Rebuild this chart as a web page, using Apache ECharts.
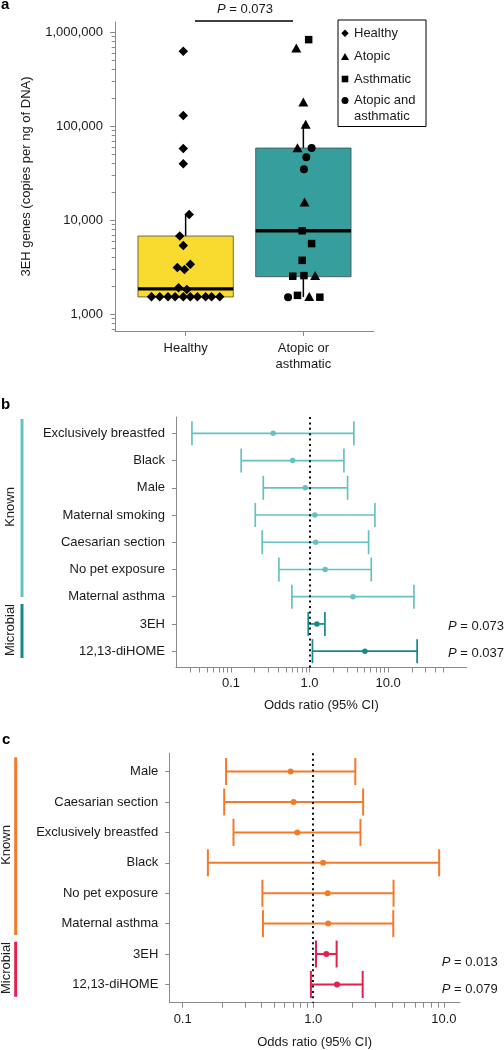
<!DOCTYPE html>
<html><head><meta charset="utf-8">
<script src="https://cdn.jsdelivr.net/npm/echarts@6/dist/echarts.min.js"></script>
<style>html,body{margin:0;padding:0;background:#fff}#c{width:504px;height:1050px}</style>
</head><body><div id="c"></div>
<script>
// ---------- Panel a data ----------
const aCategories = ['Healthy', 'Atopic or\nasthmatic'];
const aCategoryPos = [1, 2];
const aTickValues = [1000, 10000, 100000, 1000000];
const aMinorTicks = [700, 800, 900, 2000, 3000, 4000, 5000, 6000, 7000, 8000, 9000,
  20000, 30000, 40000, 50000, 60000, 70000, 80000, 90000,
  200000, 300000, 400000, 500000, 600000, 700000, 800000, 900000];
const boxQ1 = [1530, 2510];
const boxMedian = [1860, 7740];
const boxQ3 = [6800, 58700];
const whiskerLow = [1530, 1530];
const whiskerHigh = [11500, 105000];

const healthyX = [0.98, 0.98, 0.98, 0.98, 1.03, 0.95, 0.98, 1.04, 0.93, 0.99, 0.94, 1.01,
  0.71, 0.78, 0.85, 0.91, 0.98, 1.04, 1.10, 1.17, 1.22, 1.29];
const healthyY = [628000, 130000, 58000, 40000, 11500, 6800, 5400, 3400, 3140, 3000, 1920, 1830,
  1540, 1540, 1540, 1540, 1540, 1540, 1540, 1540, 1540, 1540];
const atopicX = [1.94, 2.0, 2.02, 1.95, 2.01, 2.10, 2.05];
const atopicY = [681000, 181000, 105000, 59000, 15700, 2580, 1550];
const asthmaticX = [2.045, 1.99, 2.07, 1.99, 1.91, 2.005, 1.95, 2.14];
const asthmaticY = [836000, 7740, 5650, 3750, 2540, 2580, 1590, 1520];
const bothX = [2.07, 2.025, 2.005, 1.87];
const bothY = [58700, 47000, 34900, 1520];

// ---------- Panel b data ----------
const bLabels = ['Exclusively breastfed', 'Black', 'Male', 'Maternal smoking', 'Caesarian section',
  'No pet exposure', 'Maternal asthma', '3EH', '12,13-diHOME'];
const bOR = [0.345, 0.610, 0.882, 1.17, 1.20, 1.58, 3.57, 1.24, 5.07];
const bLow = [0.0319, 0.135, 0.258, 0.204, 0.250, 0.408, 0.597, 0.963, 1.09];
const bHigh = [3.67, 2.74, 3.05, 6.79, 5.65, 6.10, 21.3, 1.57, 23.4];
const bGroup = ['Known', 'Known', 'Known', 'Known', 'Known', 'Known', 'Known', 'Microbial', 'Microbial'];
const bPValues = ['0.073', '0.037'];
const bTicks = [0.03, 0.04, 0.05, 0.06, 0.07, 0.08, 0.09, 0.1, 0.2, 0.3, 0.4, 0.5, 0.6, 0.7, 0.8, 0.9,
  1, 2, 3, 4, 5, 6, 7, 8, 9, 10, 20, 30, 40, 50];
const bTickLabels = [0.1, 1, 10];

// ---------- Panel c data ----------
const cLabels = ['Male', 'Caesarian section', 'Exclusively breastfed', 'Black', 'No pet exposure',
  'Maternal asthma', '3EH', '12,13-diHOME'];
const cOR = [0.671, 0.707, 0.755, 1.19, 1.29, 1.30, 1.26, 1.52];
const cLow = [0.215, 0.208, 0.245, 0.156, 0.408, 0.412, 1.05, 0.96];
const cHigh = [2.10, 2.41, 2.30, 9.21, 4.12, 4.10, 1.51, 2.39];
const cGroup = ['Known', 'Known', 'Known', 'Known', 'Known', 'Known', 'Microbial', 'Microbial'];
const cPValues = ['0.013', '0.079'];
const cTicks = [0.1, 0.2, 0.3, 0.4, 0.5, 0.6, 0.7, 0.8, 0.9, 1, 2, 3, 4, 5, 6, 7, 8, 9, 10];
const cTickLabels = [0.1, 1, 10];

// ---------- styles ----------
const FONT = 'Liberation Sans';
const AX = '#8a8a8a';
const TXT = '#1a1a1a';
const BOX_COLORS = ['#f9da2f', '#369e9d'];
const BOX_HALF = 0.405;
const B_COLORS = {Known: '#66c2c2', Microbial: '#148a8a'};
const C_COLORS = {Known: '#f47a2a', Microbial: '#e3204c'};

const chart = echarts.init(document.getElementById('c'), null, {renderer: 'canvas'});

function rowsOf(n) { const r = []; for (let i = 1; i <= n; i++) r.push(i); return r; }

function errBarSeries(xi, yi, labels, low, high, group, colors, cap, lw) {
  return {
    type: 'custom', xAxisIndex: xi, yAxisIndex: yi, silent: true,
    encode: {x: [1, 2], y: 0},
    data: labels.map((l, i) => [i + 1, low[i], high[i]]),
    renderItem: (params, api) => {
      const y = api.value(0);
      const a = api.coord([api.value(1), y]);
      const b = api.coord([api.value(2), y]);
      const col = colors[group[params.dataIndex]];
      const st = {stroke: col, lineWidth: lw};
      return {type: 'group', children: [
        {type: 'line', shape: {x1: a[0], y1: a[1], x2: b[0], y2: b[1]}, style: st},
        {type: 'line', shape: {x1: a[0], y1: a[1] - cap, x2: a[0], y2: a[1] + cap}, style: st},
        {type: 'line', shape: {x1: b[0], y1: b[1] - cap, x2: b[0], y2: b[1] + cap}, style: st}
      ]};
    }
  };
}

function pointSeries(xi, yi, or, group, colors, size) {
  return {
    type: 'scatter', xAxisIndex: xi, yAxisIndex: yi, symbol: 'circle', symbolSize: size, silent: true,
    data: or.map((v, i) => ({value: [v, i + 1], itemStyle: {color: colors[group[i]], opacity: 1}})),
    markLine: {
      silent: true, symbol: 'none', label: {show: false},
      lineStyle: {type: [2, 3.4], color: '#111', width: 2},
      data: [{xAxis: 1}]
    }
  };
}

const axisTextStyle = {fontFamily: FONT, fontSize: 13, color: TXT};

function logXAxis(gi, min, max, ticks, labels, margin, nameGap) {
  return {
    gridIndex: gi, type: 'log', logBase: 10, min: min, max: max,
    axisLine: {lineStyle: {color: AX, width: 1}},
    axisTick: {customValues: ticks, length: 5, lineStyle: {color: AX}},
    axisLabel: Object.assign({customValues: labels, margin: margin, formatter: v => Number(v).toFixed(1)}, axisTextStyle),
    splitLine: {show: false}, minorTick: {show: false},
    name: 'Odds ratio (95% CI)', nameLocation: 'middle', nameGap: nameGap,
    nameTextStyle: axisTextStyle
  };
}
function catYAxis(gi, labels) {
  return {
    gridIndex: gi, type: 'value', inverse: true, min: 0.4, max: labels.length + 0.6,
    axisLine: {show: true, lineStyle: {color: AX, width: 1}},
    axisTick: {show: true, customValues: rowsOf(labels.length), length: 4, lineStyle: {color: AX}},
    axisLabel: Object.assign({customValues: rowsOf(labels.length), margin: 11,
      formatter: v => labels[Math.round(v) - 1]}, axisTextStyle),
    splitLine: {show: false}
  };
}

function pText(x, y, val) {
  return {type: 'text', x: x, y: y, silent: true,
    style: {text: '{i|P} = ' + val, fontFamily: FONT, fontSize: 13, fill: TXT,
      align: 'left', verticalAlign: 'middle',
      rich: {i: {fontStyle: 'italic', fontFamily: FONT, fontSize: 13, fill: TXT}}}};
}
function vText(x, y, t) {
  return {type: 'text', x: x, y: y, rotation: Math.PI / 2, silent: true,
    style: {text: t, fontFamily: FONT, fontSize: 13, fill: TXT, align: 'center', verticalAlign: 'middle'}};
}
function bar(x, y1, y2, col) {
  return {type: 'line', silent: true, shape: {x1: x, y1: y1, x2: x, y2: y2}, style: {stroke: col, lineWidth: 3}};
}
function panelLabel(x, y, t) {
  return {type: 'text', x: x, y: y, silent: true,
    style: {text: t, fontFamily: FONT, fontSize: 15, fontWeight: 'bold', fill: '#000', verticalAlign: 'middle'}};
}

const blackMark = {color: '#000', opacity: 1};

const option = {
  animation: false,
  backgroundColor: '#fff',
  textStyle: {fontFamily: FONT},
  grid: [
    {left: 115, top: 22, width: 259, height: 309, outerBoundsMode: 'none', containLabel: false},
    {left: 176, top: 417, width: 290.7, height: 250.5, outerBoundsMode: 'none', containLabel: false},
    {left: 169.3, top: 753.3, width: 290.7, height: 249.4, outerBoundsMode: 'none', containLabel: false}
  ],
  xAxis: [
    {
      gridIndex: 0, type: 'value', min: 0.4, max: 2.6,
      axisLine: {lineStyle: {color: AX, width: 1}},
      axisTick: {customValues: aCategoryPos, length: 5, lineStyle: {color: AX}},
      axisLabel: Object.assign({customValues: aCategoryPos, margin: 9, lineHeight: 16,
        formatter: v => aCategories[Math.round(v) - 1]}, axisTextStyle),
      splitLine: {show: false}
    },
    logXAxis(1, 0.02, 100, bTicks, bTickLabels, 9, 31),
    logXAxis(2, 0.079, 13.3, cTicks, cTickLabels, 10.5, 33)
  ],
  yAxis: [
    {
      gridIndex: 0, type: 'log', logBase: 10, min: 664, max: 1288000, position: 'left',
      axisLine: {show: true, lineStyle: {color: AX, width: 1}},
      axisTick: {show: true, customValues: aTickValues, length: 5, lineStyle: {color: AX}},
      axisLabel: Object.assign({customValues: aTickValues, margin: 12,
        formatter: v => Math.round(v).toLocaleString('en-US')}, axisTextStyle),
      splitLine: {show: false}, minorTick: {show: false},
      name: '3EH genes (copies per ng of DNA)', nameLocation: 'middle', nameGap: 82,
      nameTextStyle: axisTextStyle
    },
    {
      gridIndex: 0, type: 'log', logBase: 10, min: 664, max: 1288000, position: 'left', offset: 0,
      axisLine: {show: false},
      axisTick: {show: true, customValues: aMinorTicks, length: 3.3, lineStyle: {color: AX}},
      axisLabel: {show: false}, splitLine: {show: false}, minorTick: {show: false}
    },
    catYAxis(1, bLabels),
    catYAxis(2, cLabels)
  ],
  series: [
    {
      type: 'custom', xAxisIndex: 0, yAxisIndex: 0, silent: true,
      encode: {x: 0, y: [1, 2, 3, 4, 5]},
      data: aCategoryPos.map((x, i) => [x, boxQ1[i], boxMedian[i], boxQ3[i], whiskerLow[i], whiskerHigh[i]]),
      renderItem: (params, api) => {
        const x = api.value(0);
        const tl = api.coord([x - BOX_HALF, api.value(3)]);
        const br = api.coord([x + BOX_HALF, api.value(1)]);
        const m = api.coord([x, api.value(2)]);
        const wl = api.coord([x, api.value(4)]);
        const wh = api.coord([x, api.value(5)]);
        const ws = {stroke: '#000', lineWidth: 1.5};
        return {type: 'group', children: [
          {type: 'line', shape: {x1: wh[0], y1: wh[1], x2: wh[0], y2: tl[1]}, style: ws},
          {type: 'line', shape: {x1: wl[0], y1: br[1], x2: wl[0], y2: wl[1]}, style: ws},
          {type: 'rect', shape: {x: tl[0], y: tl[1], width: br[0] - tl[0], height: br[1] - tl[1]},
            style: {fill: BOX_COLORS[params.dataIndex], stroke: '#4a4a4a', lineWidth: 0.8}},
          {type: 'line', shape: {x1: tl[0], y1: m[1], x2: br[0], y2: m[1]}, style: {stroke: '#000', lineWidth: 3.3}}
        ]};
      }
    },
    {name: 'Healthy', type: 'scatter', xAxisIndex: 0, yAxisIndex: 0, symbol: 'diamond', symbolSize: 9.5,
      itemStyle: blackMark, data: healthyX.map((x, i) => [x, healthyY[i]])},
    {name: 'Atopic', type: 'scatter', xAxisIndex: 0, yAxisIndex: 0, symbol: 'triangle', symbolSize: [10, 9],
      itemStyle: blackMark, data: atopicX.map((x, i) => [x, atopicY[i]])},
    {name: 'Asthmatic', type: 'scatter', xAxisIndex: 0, yAxisIndex: 0, symbol: 'rect', symbolSize: 7.5,
      itemStyle: blackMark, data: asthmaticX.map((x, i) => [x, asthmaticY[i]])},
    {name: 'Atopic and asthmatic', type: 'scatter', xAxisIndex: 0, yAxisIndex: 0, symbol: 'circle', symbolSize: 8,
      itemStyle: blackMark, data: bothX.map((x, i) => [x, bothY[i]])},
    errBarSeries(1, 2, bLabels, bLow, bHigh, bGroup, B_COLORS, 12, 1.7),
    pointSeries(1, 2, bOR, bGroup, B_COLORS, 5.5),
    errBarSeries(2, 3, cLabels, cLow, cHigh, cGroup, C_COLORS, 13.5, 2),
    pointSeries(2, 3, cOR, cGroup, C_COLORS, 6)
  ],
  graphic: [
    panelLabel(1, 5, 'a'),
    panelLabel(1, 405, 'b'),
    panelLabel(2, 740, 'c'),
    // P-value bracket, panel a
    {type: 'line', silent: true, shape: {x1: 195, y1: 21, x2: 293, y2: 21}, style: {stroke: '#000', lineWidth: 1.5}},
    {type: 'text', x: 245, y: 9.5, silent: true,
      style: {text: '{i|P} = 0.073', fontFamily: FONT, fontSize: 13, fill: TXT, align: 'center', verticalAlign: 'middle',
        rich: {i: {fontStyle: 'italic', fontFamily: FONT, fontSize: 13, fill: TXT}}}},
    // legend, panel a
    {type: 'rect', silent: true, shape: {x: 338, y: 20, width: 88, height: 106.5}, style: {fill: '#fff', stroke: '#000', lineWidth: 1}},
    {type: 'polygon', silent: true, shape: {points: [[345, 29.6], [348.7, 33.3], [345, 37], [341.3, 33.3]]}, style: {fill: '#000'}},
    {type: 'polygon', silent: true, shape: {points: [[345, 53], [349, 60], [341, 60]]}, style: {fill: '#000'}},
    {type: 'rect', silent: true, shape: {x: 341.7, y: 75.7, width: 6.6, height: 6.6}, style: {fill: '#000'}},
    {type: 'circle', silent: true, shape: {cx: 345, cy: 100.5, r: 3.5}, style: {fill: '#000'}},
    {type: 'text', x: 354, y: 33.3, silent: true, style: {text: 'Healthy', fontFamily: FONT, fontSize: 13, fill: TXT, verticalAlign: 'middle'}},
    {type: 'text', x: 354, y: 56.7, silent: true, style: {text: 'Atopic', fontFamily: FONT, fontSize: 13, fill: TXT, verticalAlign: 'middle'}},
    {type: 'text', x: 354, y: 79, silent: true, style: {text: 'Asthmatic', fontFamily: FONT, fontSize: 13, fill: TXT, verticalAlign: 'middle'}},
    {type: 'text', x: 354, y: 92.5, silent: true, style: {text: 'Atopic and\nasthmatic', fontFamily: FONT, fontSize: 13, lineHeight: 16, fill: TXT, verticalAlign: 'top'}},
    // group bars, panel b
    bar(22, 419, 597, B_COLORS.Known),
    bar(22, 604, 658, B_COLORS.Microbial),
    vText(10, 507, 'Known'),
    vText(10, 630, 'Microbial'),
    pText(448, 626.7, bPValues[0]),
    pText(448, 653.3, bPValues[1]),
    // group bars, panel c
    bar(15.7, 757.3, 935, C_COLORS.Known),
    bar(15.7, 941.7, 996.7, C_COLORS.Microbial),
    vText(6, 845, 'Known'),
    vText(6, 968, 'Microbial'),
    pText(441.7, 962.7, cPValues[0]),
    pText(441.7, 989, cPValues[1])
  ]
};
chart.setOption(option);
</script>
</body></html>
